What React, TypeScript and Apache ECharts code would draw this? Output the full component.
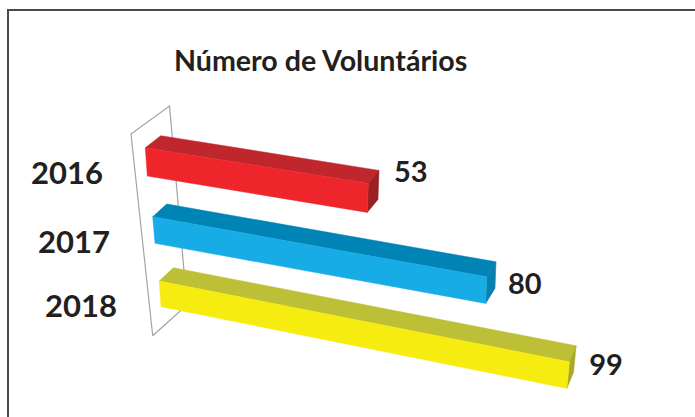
import React, { useEffect, useRef } from "react";
import * as echarts from "echarts";

const title = "Número de Voluntários";
const years = ["2016", "2017", "2018"];
const volunteers = [53, 80, 99];
const frontColors = ["#ee262c", "#17ace6", "#f6ec10"];
const topColors = ["#bf272d", "#0083b5", "#bdbf36"];
const sideColors = ["#9a2024", "#0a7fae", "#a9aa2c"];

const PX_PER_UNIT = 4.17;
const GRID_LEFT = 145.3;
const GRID_TOP = 130;
const BAND = 70;

// Oblique projection for each bar, measured relative to its band centre.
const skew = [
  { dx: 0, dy: -17.3, slope: 0.16, endX: 2, h: [28.3, 29], bx: [2, -1], depL: [15.4, -12], depR: [10.7, -13] },
  { dx: 7.4, dy: -18.3, slope: 0.18, endX: 0.4, h: [26.6, 26.6], bx: [2.3, -1], depL: [14, -12.7], depR: [9.3, -15] },
  { dx: 14, dy: -24, slope: 0.197, endX: -2.7, h: [25.7, 26.6], bx: [1.7, -2.6], depL: [14, -13.3], depR: [6.7, -16] },
];
const yearLabelPos = [
  [31, 172],
  [38, 241],
  [45, 305],
];
const valueLabelOffset = [
  [15, -13],
  [12, 8],
  [13, 5],
];

function renderBar(_: any, api: any) {
  const i = api.value(1);
  const v = api.value(0);
  const s = skew[i];
  const [x0, yc] = api.coord([0, i]);
  const [x1] = api.coord([v, i]);
  const lx = x0 + s.dx;
  const rx = x1 + s.dx + s.endX;
  const ly = yc + s.dy;
  const ry = ly + s.slope * (rx - lx);
  const tl = [lx, ly];
  const tr = [rx, ry];
  const bl = [lx + s.bx[0], ly + s.h[0]];
  const br = [rx + s.bx[1], ry + s.h[1]];
  const btl = [lx + s.depL[0], ly + s.depL[1]];
  const btr = [rx + s.depR[0], ry + s.depR[1]];
  const bbr = [br[0] + s.depR[0], br[1] + s.depR[1]];
  const poly = (points: number[][], fill: string) => ({
    type: "polygon",
    shape: { points },
    style: { fill, stroke: fill, lineWidth: 0.5 },
  });
  const off = valueLabelOffset[i];
  return {
    type: "group",
    children: [
      poly([tl, tr, btr, btl], topColors[i]),
      poly([tr, br, bbr, btr], sideColors[i]),
      poly([tl, tr, br, bl], frontColors[i]),
      {
        type: "text",
        style: {
          text: String(v),
          x: btr[0] + off[0],
          y: btr[1] + 13 + off[1],
          fill: "#231f20",
          font: "bold 29px Lato, 'Open Sans', sans-serif",
          textVerticalAlign: "middle",
        },
      },
      {
        type: "text",
        style: {
          text: years[i],
          x: yearLabelPos[i][0],
          y: yearLabelPos[i][1],
          fill: "#231f20",
          font: "bold 31px Lato, 'Open Sans', sans-serif",
          textVerticalAlign: "middle",
        },
      },
    ],
  };
}

export default function App() {
  const ref = useRef<HTMLDivElement>(null);
  useEffect(() => {
    const chart = echarts.init(ref.current!, undefined, { renderer: "svg" });
    chart.setOption({
      animation: false,
      backgroundColor: "#ffffff",
      title: {
        text: title,
        left: 169,
        top: 40,
        textStyle: { fontFamily: "Lato, 'Open Sans', sans-serif", fontWeight: "bold", fontSize: 28.6, color: "#231f20" },
      },
      grid: { left: GRID_LEFT, top: GRID_TOP, width: PX_PER_UNIT * 100, height: BAND * years.length },
      xAxis: { type: "value", min: 0, max: 100, show: false },
      yAxis: { type: "category", data: years, inverse: true, show: false },
      graphic: [
        {
          type: "polyline",
          z: 0,
          shape: { points: [[8, 417], [8, 10], [695, 10]] },
          style: { stroke: "#4a4a4a", lineWidth: 2, fill: "none" },
        },
        {
          type: "polyline",
          z: 0,
          shape: { points: [[152.7, 335.7], [131, 134], [169.5, 106], [187, 305], [152.7, 335.7]] },
          style: { stroke: "#a3a3a3", lineWidth: 1.2, fill: "none" },
        },
      ],
      series: [
        {
          type: "custom",
          z: 5,
          clip: false,
          renderItem: renderBar,
          encode: { x: 0, y: 1 },
          data: volunteers.map((v, i) => [v, i]),
        },
      ],
    });
    return () => chart.dispose();
  }, []);
  return <div ref={ref} style={{ position: "fixed", left: 0, top: 0, width: 695, height: 417 }} />;
}
